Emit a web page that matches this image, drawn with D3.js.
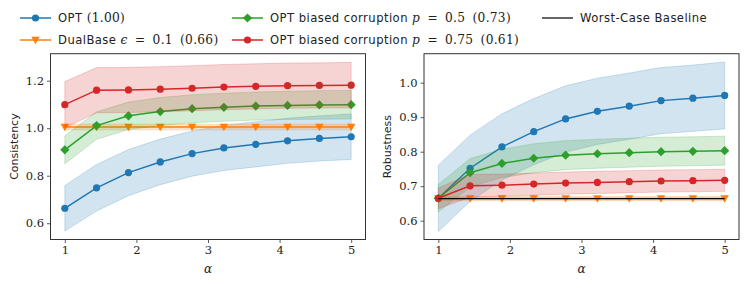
<!DOCTYPE html>
<html><head><meta charset="utf-8">
<script src="https://cdn.jsdelivr.net/npm/d3@7"></script>
<style>
body{margin:0;background:#fff;}
svg{display:block;}
.sans{font-family:"DejaVu Sans",sans-serif;}
.serif{font-family:"DejaVu Serif",serif;}
</style></head>
<body>
<svg id="chart" width="747" height="285"></svg>
<script>
const alphas = [1, 1.444, 1.889, 2.333, 2.778, 3.222, 3.667, 4.111, 4.556, 5];
const xTicks = [1, 2, 3, 4, 5];

// Consistency panel
const consOpt = [0.663, 0.749, 0.813, 0.858, 0.893, 0.917, 0.932, 0.947, 0.957, 0.964];
const consOptErr = [0.096, 0.098, 0.097, 0.096, 0.095, 0.095, 0.095, 0.095, 0.095, 0.096];
const consDual = [1.005, 1.005, 1.005, 1.005, 1.005, 1.005, 1.005, 1.005, 1.005, 1.005];
const consDualErr = [0.012, 0.012, 0.012, 0.012, 0.012, 0.012, 0.012, 0.012, 0.012, 0.012];
const consP50 = [0.909, 1.011, 1.052, 1.070, 1.082, 1.088, 1.093, 1.096, 1.098, 1.099];
const consP50Err = [0.059, 0.058, 0.058, 0.059, 0.059, 0.059, 0.059, 0.059, 0.060, 0.060];
const consP75 = [1.099, 1.160, 1.161, 1.164, 1.168, 1.173, 1.176, 1.179, 1.180, 1.181];
const consP75Err = [0.097, 0.095, 0.095, 0.095, 0.095, 0.095, 0.095, 0.095, 0.095, 0.096];
const consTicks = [0.6, 0.8, 1.0, 1.2];

// Robustness panel
const robOpt = [0.665, 0.752, 0.814, 0.858, 0.895, 0.917, 0.932, 0.948, 0.955, 0.963];
const robOptErr = [0.096, 0.096, 0.096, 0.096, 0.096, 0.096, 0.096, 0.096, 0.096, 0.097];
const robDual = [0.664, 0.664, 0.664, 0.664, 0.664, 0.664, 0.664, 0.664, 0.664, 0.664];
const robDualErr = [0.006, 0.006, 0.006, 0.006, 0.006, 0.006, 0.006, 0.006, 0.006, 0.006];
const robP50 = [0.665, 0.739, 0.766, 0.781, 0.790, 0.794, 0.797, 0.800, 0.801, 0.803];
const robP50Err = [0.040, 0.041, 0.041, 0.042, 0.042, 0.042, 0.042, 0.042, 0.042, 0.042];
const robP75 = [0.665, 0.701, 0.703, 0.706, 0.709, 0.711, 0.713, 0.715, 0.716, 0.717];
const robP75Err = [0.030, 0.033, 0.032, 0.032, 0.032, 0.032, 0.032, 0.032, 0.032, 0.032];
const robBaseline = [0.664, 0.664, 0.664, 0.664, 0.664, 0.664, 0.664, 0.664, 0.664, 0.664];
const robTicks = [0.6, 0.7, 0.8, 0.9, 1.0];

const colors = {opt:"#1f77b4", dual:"#ff7f0e", p50:"#2ca02c", p75:"#d62728", base:"#000000"};

const svg = d3.select("#chart");

function drawMarker(g, type, x, y, color){
  if(type==="circle"){
    g.append("circle").attr("cx",x).attr("cy",y).attr("r",3.6).attr("fill",color);
  } else if(type==="diamond"){
    const s=4.6;
    g.append("path").attr("d",`M${x},${y-s}L${x+s},${y}L${x},${y+s}L${x-s},${y}Z`).attr("fill",color);
  } else if(type==="tri"){
    const s=4.2;
    g.append("path").attr("d",`M${x-s},${y-s*0.8}L${x+s},${y-s*0.8}L${x},${y+s*1.0}Z`).attr("fill",color);
  }
}

function panel(opts){
  const {left,right,top,bottom,yDomain,yTicks,yLabel,series,baseline} = opts;
  const x = d3.scaleLinear().domain([0.8,5.2]).range([left,right]);
  const y = d3.scaleLinear().domain(yDomain).range([bottom,top]);
  const g = svg.append("g");
  const clipId = "clip"+Math.round(left);
  svg.append("clipPath").attr("id",clipId).append("rect")
    .attr("x",left).attr("y",top).attr("width",right-left).attr("height",bottom-top);
  const plot = g.append("g").attr("clip-path",`url(#${clipId})`);
  series.forEach(s=>{
    const area = d3.area().x((d,i)=>x(alphas[i])).y0((d,i)=>y(d-s.err[i])).y1((d,i)=>y(d+s.err[i]));
    plot.append("path").datum(s.values).attr("d",area).attr("fill",s.color).attr("fill-opacity",0.2)
      .attr("stroke",s.color).attr("stroke-opacity",0.2).attr("stroke-width",1);
    const line = d3.line().x((d,i)=>x(alphas[i])).y(d=>y(d));
    plot.append("path").datum(s.values).attr("d",line).attr("fill","none").attr("stroke",s.color).attr("stroke-width",1.5);
    s.values.forEach((v,i)=>drawMarker(plot,s.marker,x(alphas[i]),y(v),s.color));
  });
  if(baseline){
    const line = d3.line().x((d,i)=>x(alphas[i])).y(d=>y(d));
    plot.append("path").datum(baseline).attr("d",line).attr("fill","none").attr("stroke","#000").attr("stroke-width",1.2);
  }
  const xAxis = d3.axisBottom(x).tickValues(xTicks).tickSize(3.5).tickPadding(3).tickFormat(d3.format("d"));
  const gx = g.append("g").attr("transform",`translate(0,${bottom})`).call(xAxis);
  const yAxis = d3.axisLeft(y).tickValues(yTicks).tickSize(3.5).tickPadding(3).tickFormat(d3.format(".1f"));
  const gy = g.append("g").attr("transform",`translate(${left},0)`).call(yAxis);
  [gx,gy].forEach(a=>{
    a.select(".domain").remove();
    a.selectAll(".tick line").attr("stroke","#333").attr("stroke-width",0.8);
    a.selectAll(".tick text").attr("class","serif").attr("font-size",11.5).attr("fill","#222");
  });
  g.append("rect").attr("x",left).attr("y",top).attr("width",right-left).attr("height",bottom-top)
    .attr("fill","none").attr("stroke","#333").attr("stroke-width",1);
  g.append("text").attr("class","serif").attr("font-style","italic").attr("font-size",12)
    .attr("x",(left+right)/2).attr("y",bottom+33).attr("text-anchor","middle").attr("fill","#222").text("α");
  g.append("text").attr("class","sans").attr("font-size",11)
    .attr("transform",`translate(${left-33},${(top+bottom)/2}) rotate(-90)`)
    .attr("text-anchor","middle").attr("fill","#222").text(yLabel);
}

panel({left:50.5,right:365.5,top:53.7,bottom:239.5,yDomain:[0.5315,1.3135],yTicks:consTicks,yLabel:"Consistency",
  series:[
    {values:consOpt,err:consOptErr,color:colors.opt,marker:"circle"},
    {values:consDual,err:consDualErr,color:colors.dual,marker:"tri"},
    {values:consP50,err:consP50Err,color:colors.p50,marker:"diamond"},
    {values:consP75,err:consP75Err,color:colors.p75,marker:"circle"}
  ]});
panel({left:424,right:739,top:53.7,bottom:239.5,yDomain:[0.5455,1.084],yTicks:robTicks,yLabel:"Robustness",
  series:[
    {values:robOpt,err:robOptErr,color:colors.opt,marker:"circle"},
    {values:robDual,err:robDualErr,color:colors.dual,marker:"tri"},
    {values:robP50,err:robP50Err,color:colors.p50,marker:"diamond"},
    {values:robP75,err:robP75Err,color:colors.p75,marker:"circle"}
  ], baseline: robBaseline});

// Legend
const legendItems = [
  {x:20,y:18,color:colors.opt,marker:"circle",parts:[["sans","OPT "],["serif","(1.00)"]]},
  {x:20,y:40,color:colors.dual,marker:"tri",parts:[["sans","DualBase "],["serifi","ϵ"],["serif"," = 0.1 (0.66)"]]},
  {x:232,y:18,color:colors.p50,marker:"diamond",parts:[["sans","OPT biased corruption "],["serifi","p"],["serif"," = 0.5 (0.73)"]]},
  {x:232,y:40,color:colors.p75,marker:"circle",parts:[["sans","OPT biased corruption "],["serifi","p"],["serif"," = 0.75 (0.61)"]]},
  {x:542,y:18,color:"#000",marker:null,parts:[["sans","Worst-Case Baseline"]]}
];
const lg = svg.append("g");
legendItems.forEach(it=>{
  lg.append("line").attr("x1",it.x).attr("x2",it.x+31).attr("y1",it.y).attr("y2",it.y)
    .attr("stroke",it.color).attr("stroke-width",it.marker?1.5:1.2);
  if(it.marker) drawMarker(lg,it.marker,it.x+15.5,it.y,it.color);
  const t = lg.append("text").attr("x",it.x+38).attr("y",it.y+4).attr("fill","#222");
  it.parts.forEach(p=>{
    const ts = t.append("tspan").text(p[1]);
    if(p[0]==="sans") ts.attr("font-family","'DejaVu Sans', sans-serif").attr("font-size",11.6).attr("letter-spacing",0.45);
    else {
      ts.attr("font-family","'DejaVu Serif', serif").attr("font-size",12.2).attr("word-spacing",3).attr("letter-spacing",0.3);
      if(p[0]==="serifi") ts.attr("font-style","italic");
    }
  });
});
</script>
</body></html>
